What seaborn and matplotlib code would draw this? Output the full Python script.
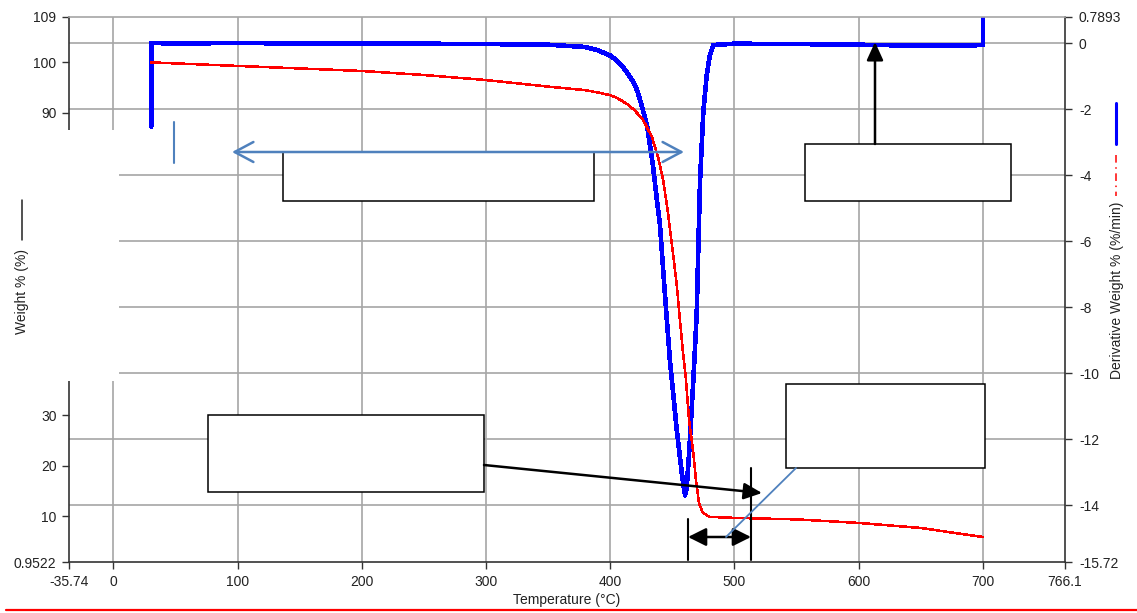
import matplotlib
matplotlib.use("Agg")
import matplotlib.pyplot as plt
import seaborn as sns
from matplotlib.patches import Rectangle, FancyArrowPatch, ArrowStyle
from matplotlib.lines import Line2D

# ---- TGA data ----
# Weight loss curve (left axis)
temp_weight = [30.5, 50, 100, 150, 200, 250, 300, 350, 380, 392.7, 400, 405,
               410, 415, 420, 426.4, 433.6, 438.5, 442.6, 446.5, 450.5, 453.7,
               456.1, 458.6, 461, 463.4, 466.6, 469, 471.5, 474.6, 480, 500,
               550, 600, 650, 700]
weight_pct = [100.0, 99.8, 99.3, 98.8, 98.3, 97.5, 96.5, 95.2, 94.5, 93.9, 93.5,
              93.0, 92.3, 91.5, 90.4, 88.6, 85.2, 81.2, 76.7, 70.1, 62.2, 55.5,
              48.9, 42.4, 37.0, 29.1, 23.2, 17.2, 12.6, 10.7, 9.9, 9.7, 9.4, 8.7,
              7.7, 5.9]

# Derivative weight curve (right axis)
temp_deriv = [30.5, 30.6, 50, 100, 150, 200, 250, 300, 350, 380, 390, 395, 400,
              405, 410, 414, 418, 421.5, 425, 429.6, 432, 434.5, 438, 440, 444,
              448, 453.5, 457.5, 460.2, 461.5, 463.7, 466.9, 469.6, 470.9,
              472.3, 474.9, 477.6, 480, 483, 500, 550, 600, 650, 690, 700, 700.1]
deriv_pct = [-2.53, 0.0, -0.01, 0.0, -0.01, -0.02, -0.02, -0.03, -0.05, -0.12,
             -0.22, -0.3, -0.38, -0.52, -0.72, -0.92, -1.15, -1.42, -1.85, -2.5,
             -3.1, -3.75, -4.9, -5.5, -7.6, -9.6, -11.7, -13.0, -13.7, -13.5,
             -12.3, -10.2, -8.2, -6.2, -4.15, -2.1, -1.0, -0.4, -0.06, -0.02,
             -0.03, -0.05, -0.08, -0.08, -0.05, 0.7893]

# ---- axis ticks ----
x_ticks = [-35.74, 0, 100, 200, 300, 400, 500, 600, 700, 766.1]
x_labels = ["-35.74", "0", "100", "200", "300", "400", "500", "600", "700", "766.1"]
left_ticks = [0.9522, 10, 20, 30, 40, 50, 60, 70, 80, 90, 100, 109]
left_labels = ["0.9522", "10", "20", "30", "40", "50", "60", "70", "80", "90", "100", "109"]
right_ticks = [-15.72, -14, -12, -10, -8, -6, -4, -2, 0, 0.7893]
right_labels = ["-15.72", "-14", "-12", "-10", "-8", "-6", "-4", "-2", "0", "0.7893"]
grid_x = [0, 100, 200, 300, 400, 500, 600, 700]
grid_y = [-14, -12, -10, -8, -6, -4, -2, 0]

sns.set_theme(style="white")
plt.rcParams["font.family"] = ["Liberation Sans", "DejaVu Sans"]

W, H = 1137, 613
fig = plt.figure(figsize=(W / 100, H / 100), dpi=100)
fig.patch.set_facecolor("white")

L, R, T, B = 69, 1065, 17, 562
pos = [L / W, 1 - B / H, (R - L) / W, (B - T) / H]

xlim = (x_ticks[0], x_ticks[-1])
ylim_left = (left_ticks[0], left_ticks[-1])
ylim_right = (right_ticks[0], right_ticks[-1])

# grid layer underneath both data axes
gax = fig.add_axes(pos, zorder=0)
gax.set_xlim(*xlim)
gax.set_ylim(*ylim_right)
gax.set_xticks(grid_x)
gax.set_yticks(grid_y)
gax.grid(True, color="#a6a6a6", lw=1.2)
gax.tick_params(length=0, labelleft=False, labelbottom=False)
for s in gax.spines.values():
    s.set_visible(False)
gax.set_facecolor("white")

ax = fig.add_axes(pos, zorder=2)
ax.patch.set_visible(False)
ax2 = ax.twinx()
ax2.set_zorder(1)
ax2.patch.set_visible(False)

sns.lineplot(x=temp_deriv, y=deriv_pct, ax=ax2, color="#0000ff", lw=2.6,
             sort=False, estimator=None, antialiased=False)
sns.lineplot(x=temp_weight, y=weight_pct, ax=ax, color="#ff0000", lw=1.1,
             sort=False, estimator=None, antialiased=False)

ax.set_xlim(*xlim)
ax.set_ylim(*ylim_left)
ax2.set_ylim(*ylim_right)
ax.set_xticks(x_ticks)
ax.set_xticklabels(x_labels)
ax.set_yticks(left_ticks)
ax.set_yticklabels(left_labels)
ax2.set_yticks(right_ticks)
ax2.set_yticklabels(right_labels)
ax.set_xlabel("")
ax.set_ylabel("")
ax2.set_ylabel("")

tick_kw = dict(direction="out", length=5, width=1, color="#333333",
               labelcolor="#222222", labelsize=10)
ax.tick_params(axis="x", bottom=True, pad=4, **tick_kw)
ax.tick_params(axis="y", left=True, right=False, pad=4, **tick_kw)
ax2.tick_params(axis="y", right=True, left=False, pad=5, **tick_kw)

for name in ["left", "bottom"]:
    ax.spines[name].set_color("#333333")
    ax.spines[name].set_linewidth(1.2)
ax.spines["top"].set_color("#a6a6a6")
ax.spines["top"].set_linewidth(1.2)
ax.spines["right"].set_visible(False)
for name in ["left", "bottom", "top"]:
    ax2.spines[name].set_visible(False)
ax2.spines["right"].set_color("#333333")
ax2.spines["right"].set_linewidth(1.2)

# ---- overlay drawing in figure pixels (origin top-left) ----
def P(x, y):
    return (x / W, 1 - y / H)

def seg(x0, y0, x1, y1, **kw):
    fig.add_artist(Line2D([x0 / W, x1 / W], [1 - y0 / H, 1 - y1 / H],
                          transform=fig.transFigure, **kw))

def arrow(p0, p1, style, **kw):
    fig.add_artist(FancyArrowPatch(P(*p0), P(*p1), transform=fig.transFigure,
                                   arrowstyle=style, shrinkA=0, shrinkB=0,
                                   mutation_scale=10, **kw))

def box(x0, y0, x1, y1):
    fig.add_artist(Rectangle(P(x0, y1), (x1 - x0) / W, (y1 - y0) / H,
                             transform=fig.transFigure, facecolor="white",
                             edgecolor="black", lw=1.1, zorder=5))

# white panel over the left part of the weight axis
fig.add_artist(Rectangle(P(0, 381), 119 / W, (381 - 130) / H,
                         transform=fig.transFigure, facecolor="white",
                         edgecolor="none", zorder=5))

box(283, 152, 594, 201)
box(805, 144, 1011, 201)
box(208, 415, 484, 492)
box(786, 384, 985, 468)

steel = "#4f81bd"
open_head = ArrowStyle("<->", head_length=1.35, head_width=0.72)
arrow((232, 152), (684, 152), open_head, color=steel, lw=1.8, zorder=6)
seg(174, 122, 174, 163, color=steel, lw=1.5, zorder=6)

solid_head = ArrowStyle("-|>", head_length=1.1, head_width=0.5)
both_head = ArrowStyle("<|-|>", head_length=1.1, head_width=0.55)
arrow((875, 144), (875, 42), solid_head, color="black", lw=1.8, zorder=6)
arrow((484, 465), (762, 493), solid_head, color="black", lw=1.8, zorder=6)
seg(688, 519, 688, 560, color="black", lw=1.5, zorder=6)
seg(751, 468, 751, 560, color="black", lw=1.5, zorder=6)
arrow((688, 537), (751, 537), both_head, color="black", lw=1.8, zorder=6)
seg(726, 537, 796, 468, color=steel, lw=1.3, zorder=6)

# axis titles with their line keys
fig.text(567 / W, 1 - 600 / H, "Temperature (°C)", ha="center", va="center",
         fontsize=10, color="#222222", zorder=7)
fig.text(22 / W, 1 - 291 / H, "Weight % (%)", ha="center", va="center",
         rotation=90, fontsize=10, color="#222222", zorder=7)
seg(22, 200, 22, 240, color="#222222", lw=1.1, zorder=7)
fig.text(1117 / W, 1 - 290 / H, "Derivative Weight % (%/min)", ha="center",
         va="center", rotation=90, fontsize=10, color="#222222", zorder=7)
seg(1116, 103, 1116, 144, color="#0000ff", lw=2.2, zorder=7)
seg(1116, 155, 1116, 196, color="#ff0000", lw=1.1, zorder=7,
    linestyle=(0, (5, 3, 1, 3)))

# red rule along the bottom edge
seg(6, 610, 1137, 610, color="#ff0000", lw=1.6, zorder=7)

fig.savefig("out.png", dpi=100, facecolor="white")
